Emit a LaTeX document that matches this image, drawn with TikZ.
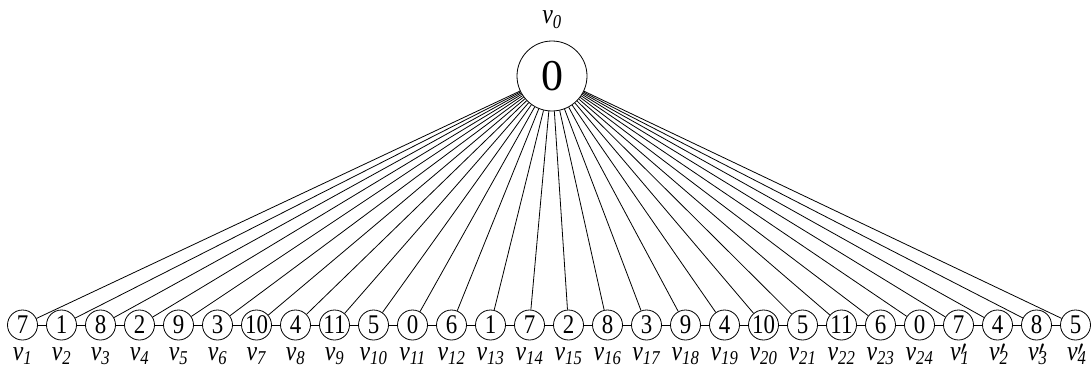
\documentclass[tikz,border=0pt]{standalone}
\usepackage{fontspec}
\setmainfont{Liberation Serif}
\newfontfamily\narrowfont[FakeStretch=0.85]{Liberation Serif}
\usetikzlibrary{positioning}

\newcommand{\vlab}[1]{\textit{v}\textsubscript{\textit{#1}}}
\newcommand{\vplab}[1]{\textit{v}\rlap{\textsubscript{\textit{#1}}}\raisebox{-0.35ex}{$'$}}

\begin{document}
\begin{tikzpicture}[x=1pt, y=-1pt, line width=0.8pt,
  vert/.style={circle, draw, minimum size=30pt, inner sep=0pt, font=\narrowfont\fontsize{27}{27}\selectfont},
  root/.style={circle, draw, minimum size=70pt, inner sep=0pt, font=\fontsize{44}{44}\selectfont},
  lbl/.style={inner sep=0pt, font=\narrowfont\fontsize{28}{28}\selectfont}]
  \useasboundingbox (0,0) rectangle (1092,369);

  \node[root] (v0) at (552,76) {0};
  \node[lbl, above=17pt of v0.north, anchor=base] (l0) {\vlab{0}};

  % bottom row
  \foreach \val [count=\i] in {7,1,8,2,9,3,10,4,11,5,0,6,1,7,2,8,3,9,4,10,5,11,6,0,7,4,8,5}
    \node[vert] (n\i) at ({22.5+39*(\i-1)},325) {\val};

  \foreach \i in {1,...,28}{
    \pgfmathtruncatemacro{\k}{\i-24}
    \node[lbl, below=20pt of n\i.south, anchor=base] (l\i) {\ifnum\i<25 \vlab{\i}\else\vplab{\k}\fi};
    \draw (v0) -- (n\i);
  }
  \foreach \i [evaluate=\i as \j using int(\i+1)] in {1,...,27}
    \draw (n\i) -- (n\j);
\end{tikzpicture}
\end{document}
